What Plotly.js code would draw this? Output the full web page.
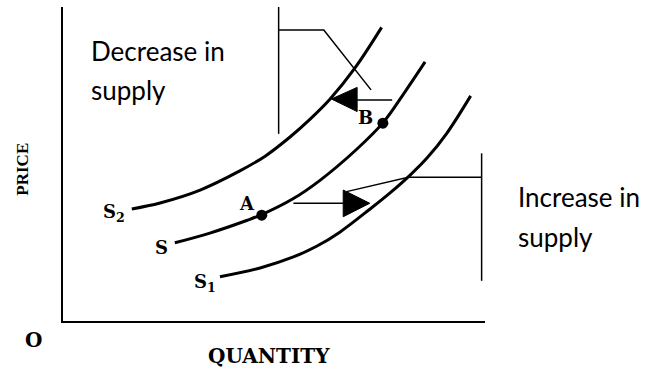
<!DOCTYPE html>
<html><head><meta charset="utf-8">
<script src="https://cdn.plot.ly/plotly-3.0.1.min.js"></script>
<style>html,body{margin:0;padding:0;background:#fff}#chart{width:648px;height:369px}</style>
</head><body><div id="chart"></div>
<script>
// ---- Data (quantity / price in chart units) ----
const s2Quantity = [1.63, 2.30, 3.25, 4.19, 4.79, 5.38, 5.85, 6.33, 6.92, 7.55];
const s2Price    = [3.57, 3.76, 4.17, 4.78, 5.25, 5.86, 6.42, 7.07, 8.06, 9.35];

const sQuantity  = [2.65, 3.48, 4.35, 4.71, 5.46, 6.09, 6.96, 7.58, 8.10, 8.58];
const sPrice     = [2.49, 2.80, 3.20, 3.39, 3.90, 4.48, 5.47, 6.31, 7.29, 8.25];

const s1Quantity = [3.72, 4.67, 5.46, 6.01, 6.56, 7.27, 7.75, 8.22, 8.62, 9.09, 9.66];
const s1Price    = [1.41, 1.69, 2.04, 2.38, 2.83, 3.56, 4.08, 4.64, 5.18, 5.97, 7.17];

const pointNames    = ["A", "B"];
const pointQuantity = [4.71, 7.58];
const pointPrice    = [3.37, 6.30];

// bracket + leader for "Decrease in supply"
const decBracketQ = [5.11, 5.11];
const decBracketP = [10.0, 5.96];
const decLeaderQ  = [5.11, 6.18, 7.30];
const decLeaderP  = [9.27, 9.27, 7.36];
const decShaftQ   = [7.80, 6.97];
const decShaftP   = [7.04, 7.04];
const decHeadQ    = [6.36, 6.97, 6.97, 6.36];
const decHeadP    = [7.07, 7.44, 6.67, 7.07];

// bracket + leader for "Increase in supply"
const incBracketQ = [9.92, 9.92];
const incBracketP = [5.34, 1.28];
const incLeaderQ  = [6.72, 8.18, 9.92];
const incLeaderP  = [4.12, 4.58, 4.58];
const incShaftQ   = [5.46, 6.64];
const incShaftP   = [3.75, 3.75];
const incHeadQ    = [7.27, 6.64, 6.64, 7.27];
const incHeadP    = [3.75, 4.17, 3.32, 3.75];

const curveLabels = ["S<sub>2</sub>", "S", "S<sub>1</sub>"];
const curveLabelQ = [0.90, 2.14, 3.06];
const curveLabelP = [3.44, 2.34, 1.21];
const pointLabelQ = [4.37, 7.16];
const pointLabelP = [3.73, 6.48];

const axisTitleX = "QUANTITY";
const axisTitleY = "PRICE";
const originLabel = "O";
const decText = ["Decrease in", "supply"];
const incText = ["Increase in", "supply"];

// ---- Traces ----
const curveLine = {color: "#000", width: 3, shape: "spline", smoothing: 1};
const thin = {color: "#000", width: 1.5};
const traces = [
  {x: s2Quantity, y: s2Price, mode: "lines", line: curveLine},
  {x: sQuantity,  y: sPrice,  mode: "lines", line: curveLine},
  {x: s1Quantity, y: s1Price, mode: "lines", line: curveLine},
  {x: decBracketQ, y: decBracketP, mode: "lines", line: thin},
  {x: decLeaderQ,  y: decLeaderP,  mode: "lines", line: thin},
  {x: decShaftQ,   y: decShaftP,   mode: "lines", line: thin},
  {x: decHeadQ,    y: decHeadP,    mode: "lines", fill: "toself", fillcolor: "#000", line: {color: "#000", width: 1}},
  {x: incBracketQ, y: incBracketP, mode: "lines", line: thin},
  {x: incLeaderQ,  y: incLeaderP,  mode: "lines", line: thin},
  {x: incShaftQ,   y: incShaftP,   mode: "lines", line: thin},
  {x: incHeadQ,    y: incHeadP,    mode: "lines", fill: "toself", fillcolor: "#000", line: {color: "#000", width: 1}},
  {x: pointQuantity, y: pointPrice, mode: "markers", marker: {color: "#000", size: 11}}
];

// ---- Annotations (paper coords = data / 10, since both axes span 0..10) ----
const serifBold = {family: "DejaVu Serif", size: 18, color: "#000", weight: "bold"};
const sans = {family: "Lato", size: 26, color: "#000"};
const ann = [];
function addText(q, p, text, font, xanchor, extra) {
  ann.push(Object.assign({xref: "paper", yref: "paper", x: q / 10, y: p / 10, text: text, showarrow: false,
    xanchor: xanchor, yanchor: "middle", font: font}, extra || {}));
}
curveLabels.forEach((t, i) => addText(curveLabelQ[i], curveLabelP[i], t, serifBold, "left"));
pointNames.forEach((t, i) => addText(pointLabelQ[i], pointLabelP[i], t, serifBold, "center"));
addText(0.62, 8.60, decText[0], sans, "left");
addText(0.62, 7.36, decText[1], sans, "left");
addText(10.73, 3.96, incText[0], sans, "left");
addText(10.73, 2.69, incText[1], sans, "left");
addText(4.87, -1.10, axisTitleX, {family: "DejaVu Serif", size: 20, color: "#000", weight: "bold"}, "center");
addText(-0.98, 4.84, axisTitleY, {family: "Liberation Serif", size: 17, color: "#000", weight: "bold"}, "center", {textangle: -90});
addText(-0.71, -0.61, originLabel, {family: "DejaVu Serif", size: 20, color: "#000", weight: "bold"}, "center");

const axisBase = {range: [0, 10], showline: true, linecolor: "#000", linewidth: 2, showgrid: false,
  zeroline: false, showticklabels: false, ticks: "", fixedrange: true};

const layout = {
  width: 648, height: 369,
  margin: {l: 63, r: 163, t: 7, b: 48, pad: 0},
  paper_bgcolor: "#fff", plot_bgcolor: "#fff",
  showlegend: false, hovermode: false,
  xaxis: Object.assign({}, axisBase),
  yaxis: Object.assign({}, axisBase),
  annotations: ann
};

Plotly.newPlot("chart", traces.map(t => Object.assign({cliponaxis: false}, t)), layout, {staticPlot: true, displayModeBar: false});
</script>
</body></html>
